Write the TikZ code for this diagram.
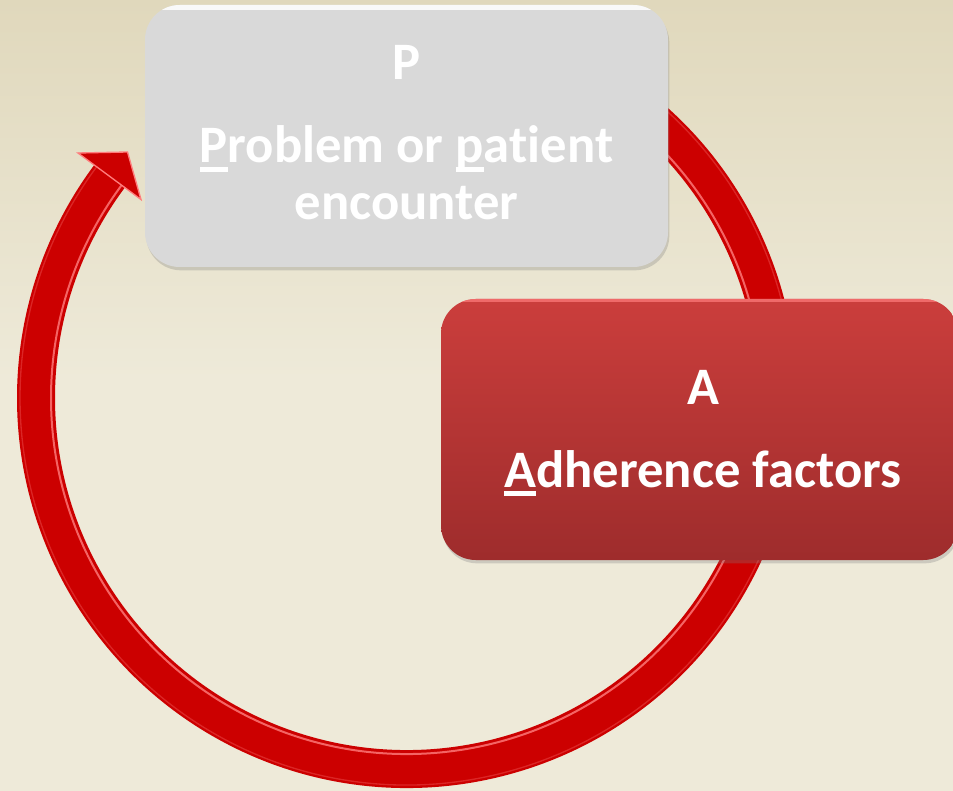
\documentclass[tikz,border=0pt]{standalone}
\usepackage{fontspec}
\newfontfamily\cardfont{Carlito}[Ligatures=NoCommon]
\usetikzlibrary{shadows}

\definecolor{bgtop}{RGB}{224,216,188}
\definecolor{bgbot}{RGB}{238,234,217}
\definecolor{cyclered}{RGB}{204,0,0}
\definecolor{cyclelight}{RGB}{255,125,125}
\definecolor{pgrey}{RGB}{217,217,217}
\definecolor{atop}{RGB}{203,62,60}
\definecolor{abot}{RGB}{158,44,44}

% underline the key letter of a word
\newcommand\keyletter[1]{\setbox0\hbox{#1}\rlap{\rule[-0.17em]{\wd0}{0.1em}}\box0}

\tikzset{every picture/.style={line width=0.75pt}}
\tikzset{
  cardtext/.style={anchor=base, inner sep=0pt, text=white,
    font=\cardfont\bfseries\fontsize{39.5}{47}\selectfont},
  card/.style={rounded corners=26pt, inner sep=0pt, draw=none,
    drop shadow={opacity=0.3, shadow xshift=1pt, shadow yshift=-2.5pt}},
  pcard/.style={card, fill=pgrey, minimum width=392.25pt, minimum height=196.5pt,
    path picture={\draw[white, line width=7pt, opacity=0.85]
      (path picture bounding box.north west) -- (path picture bounding box.north east);}},
  acard/.style={card, top color=atop, bottom color=abot,
    minimum width=387.75pt, minimum height=195.75pt,
    path picture={\draw[cyclelight, line width=5pt, opacity=0.7]
      (path picture bounding box.north west) -- (path picture bounding box.north east);}},
  cycleband/.style={cyclered, line width=28.5pt}
}

\begin{document}
\begin{tikzpicture}[x=0.75pt,y=0.75pt,yscale=-1,xscale=1]
\clip (0,0) rectangle (953,791);

%Background
\shade [top color=bgtop, bottom color=bgbot] (0,0) rectangle (953,380);
\fill [bgbot] (0,379) rectangle (953,791);

%Cycle arrow
\coordinate (hub) at (407,398);
\draw [cycleband] ([shift={(-60:371)}]hub) arc [start angle=-60, end angle=216.7, radius=371];
\draw [cyclelight, line width=1.5pt, opacity=0.8] ([shift={(-60:356)}]hub) arc [start angle=-60, end angle=216.7, radius=356];
\draw [cyclelight, line width=1pt, opacity=0.3] ([shift={(-60:387)}]hub) arc [start angle=-60, end angle=216.7, radius=387];
%Arrow head
\coordinate (wingl) at (78,153);
\coordinate (tip) at (127.5,152);
\coordinate (wingr) at (141,199.5);
\fill [cyclered, draw=cyclelight, line width=1pt] (wingl) -- (tip) -- (wingr) -- cycle;

%Shape: P card
\node [pcard] (pcard) at (406.5,136) {};
% Text Node
\node [cardtext] (ptitle) at (406.5,80) {P};
% Text Node
\node [cardtext] (pline1) at (406.5,163) {\keyletter{P}roblem or \keyletter{p}atient};
% Text Node
\node [cardtext] (pline2) at (406.5,220) {encounter};

%Shape: A card
\node [acard] (acard) at (699.5,429.5) {};
% Text Node
\node [cardtext] (atitle) at (703,405) {A};
% Text Node
\node [cardtext] (aline) at (703,487) {\keyletter{A}dherence factors};

\end{tikzpicture}
\end{document}
